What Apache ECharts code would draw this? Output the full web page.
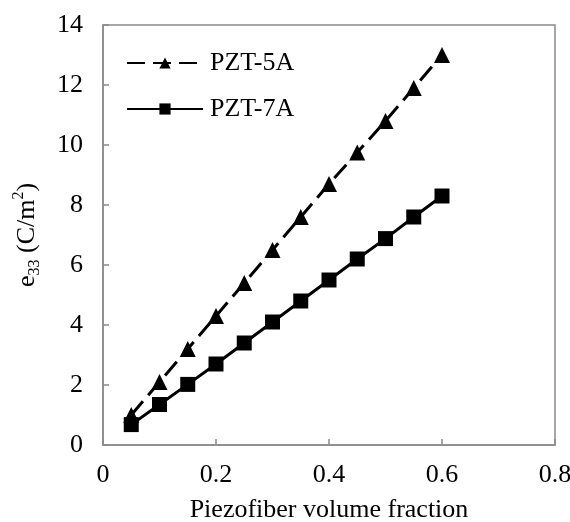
<!DOCTYPE html>
<html>
<head>
<meta charset="utf-8">
<script src="https://cdn.jsdelivr.net/npm/echarts@6/dist/echarts.min.js"></script>
<style>
  html, body { margin: 0; padding: 0; background: #fff; }
  #chart { width: 570px; height: 522px; }
</style>
</head>
<body>
<div id="chart"></div>
<script>
// piezofiber volume fraction
const fractions = [0.05, 0.1, 0.15, 0.2, 0.25, 0.3, 0.35, 0.4, 0.45, 0.5, 0.55, 0.6];
// e33 (C/m^2)
const pzt5A = [1.0, 2.1, 3.2, 4.3, 5.4, 6.5, 7.6, 8.7, 9.75, 10.8, 11.9, 13.0];
const pzt7A = [0.68, 1.35, 2.02, 2.7, 3.4, 4.1, 4.8, 5.5, 6.2, 6.88, 7.6, 8.3];

const FONT = "Liberation Serif";
const AXIS_GRAY = "#8a8a8a";

const chart = echarts.init(document.getElementById("chart"), null, { renderer: "canvas" });

const pairs = (ys) => fractions.map((x, i) => [x, ys[i]]);

chart.setOption({
	animation: false,
	backgroundColor: "#fff",
	textStyle: { fontFamily: FONT, color: "#000" },
	grid: {
		left: 103, top: 25, right: 15, bottom: 77,
		outerBoundsMode: "none", containLabel: false,
		show: true, borderColor: AXIS_GRAY, borderWidth: 1.5,
	},
	legend: {
		orient: "vertical",
		left: 121, top: 45,
		itemWidth: 76, itemHeight: 14, itemGap: 20,
		textStyle: { fontFamily: FONT, fontSize: 26, color: "#000", padding: [0, 0, 0, 2] },
		data: ["PZT-5A", "PZT-7A"],
	},
	xAxis: {
		type: "value",
		min: 0, max: 0.8, interval: 0.2,
		name: "Piezofiber volume fraction",
		nameLocation: "middle", nameGap: 52,
		nameTextStyle: { fontFamily: FONT, fontSize: 26, color: "#000" },
		axisLine: { show: true, lineStyle: { color: AXIS_GRAY, width: 1.5 } },
		axisTick: { show: true, inside: true, length: 6, lineStyle: { color: AXIS_GRAY, width: 1.5 } },
		axisLabel: { fontFamily: FONT, fontSize: 26, color: "#000", margin: 17 },
		splitLine: { show: false },
	},
	yAxis: {
		type: "value",
		min: 0, max: 14, interval: 2,
		name: "{n|e}{sub|33}{n| (C/m}{sup|2}{n|)}",
		nameLocation: "middle", nameGap: 60, nameRotate: 90,
		nameTextStyle: {
			fontFamily: FONT, fontSize: 26, color: "#000",
			rich: {
				n: { fontFamily: FONT, fontSize: 26, color: "#000", lineHeight: 32, verticalAlign: "middle" },
				sub: { fontFamily: FONT, fontSize: 16, color: "#000", lineHeight: 32, verticalAlign: "bottom", padding: [12, 0, 0, 0] },
				sup: { fontFamily: FONT, fontSize: 16, color: "#000", lineHeight: 32, verticalAlign: "top", padding: [0, 0, 10, 0] },
			},
		},
		axisLine: { show: true, lineStyle: { color: AXIS_GRAY, width: 1.5 } },
		axisTick: { show: true, inside: true, length: 6, lineStyle: { color: AXIS_GRAY, width: 1.5 } },
		axisLabel: { fontFamily: FONT, fontSize: 26, color: "#000", margin: 20 },
		splitLine: { show: false },
	},
	series: [
		{
			name: "PZT-5A",
			type: "line",
			data: pairs(pzt5A),
			symbol: "triangle", symbolSize: 16,
			itemStyle: { color: "#000" },
			lineStyle: { color: "#000", width: 3, type: [18, 8] },
		},
		{
			name: "PZT-7A",
			type: "line",
			data: pairs(pzt7A),
			symbol: "rect", symbolSize: 15,
			itemStyle: { color: "#000" },
			lineStyle: { color: "#000", width: 3 },
		},
	],
});
</script>
</body>
</html>
